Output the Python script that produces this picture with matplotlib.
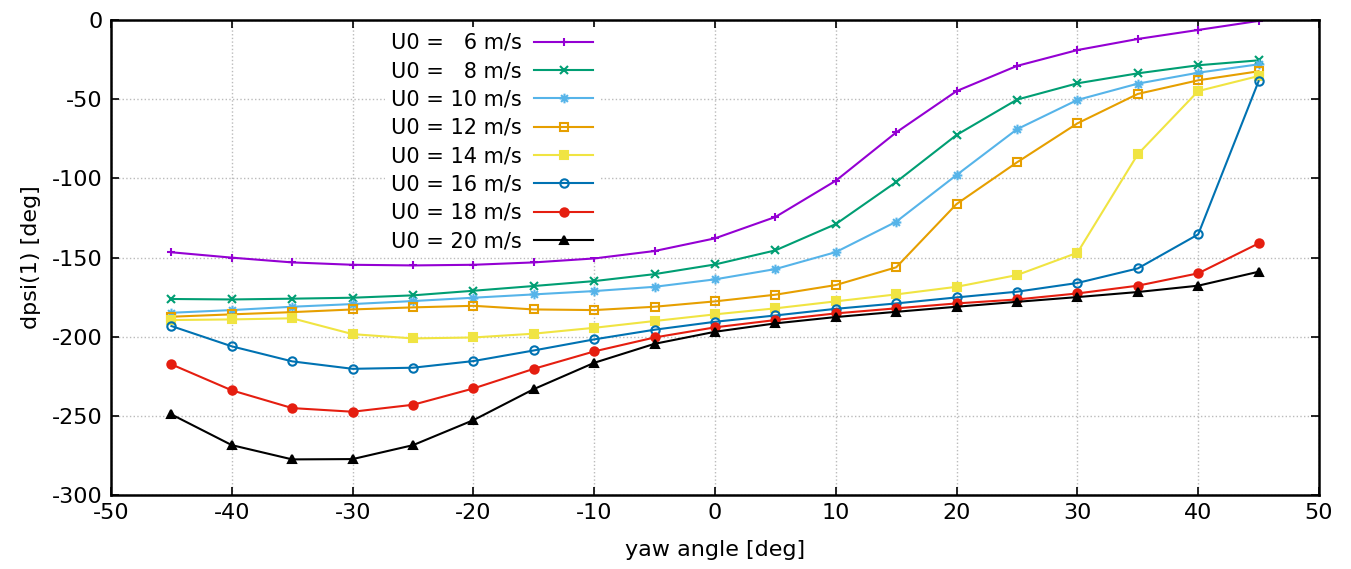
import numpy as np
import matplotlib
matplotlib.use('Agg')
import matplotlib.pyplot as plt
from matplotlib.path import Path

yaw = [-45, -40, -35, -30, -25, -20, -15, -10, -5, 0, 5, 10, 15, 20, 25, 30, 35, 40, 45]

speeds = [6, 8, 10, 12, 14, 16, 18, 20]

dpsi_6 = [-146.7, -150.1, -153.1, -154.6, -155.0, -154.6, -153.1, -150.6, -145.9, -137.9,
          -124.4, -101.5, -71.0, -44.9, -29.0, -19.0, -12.0, -6.3, -0.6]
dpsi_8 = [-176.2, -176.5, -176.0, -175.4, -173.9, -171.0, -168.0, -164.9, -160.5, -154.4,
          -145.5, -128.9, -102.3, -72.6, -50.3, -40.0, -33.7, -28.6, -25.5]
dpsi_10 = [-184.9, -183.2, -181.1, -179.4, -177.5, -175.4, -173.3, -171.2, -168.5, -163.8,
           -157.3, -146.6, -127.4, -97.9, -69.0, -50.5, -40.2, -33.3, -28.0]
dpsi_12 = [-187.4, -185.9, -184.5, -182.8, -181.5, -180.5, -182.8, -183.2, -181.1, -177.7,
           -173.5, -167.4, -156.2, -116.2, -89.9, -65.3, -46.7, -38.1, -32.4]
dpsi_14 = [-189.5, -189.1, -188.4, -198.4, -201.1, -200.5, -198.1, -194.4, -190.1, -185.9,
           -182.1, -177.7, -173.3, -168.5, -161.1, -147.0, -84.8, -44.9, -35.4]
dpsi_16 = [-193.3, -206.1, -215.6, -220.3, -219.6, -215.4, -208.7, -201.7, -195.6, -190.6,
           -186.6, -182.4, -179.0, -175.2, -171.6, -166.1, -156.9, -135.4, -38.7]
dpsi_18 = [-217.5, -233.9, -245.1, -247.4, -243.0, -232.7, -220.3, -209.3, -200.5, -194.1,
           -189.5, -185.3, -182.1, -179.0, -176.5, -172.7, -167.8, -160.0, -141.1]
dpsi_20 = [-249.1, -268.5, -277.5, -277.3, -268.5, -252.7, -233.1, -216.5, -204.5, -196.9,
           -191.6, -187.6, -184.3, -181.1, -178.0, -175.0, -171.8, -167.8, -159.0]

series = [dpsi_6, dpsi_8, dpsi_10, dpsi_12, dpsi_14, dpsi_16, dpsi_18, dpsi_20]

# gnuplot-like asterisk: a plus and a cross on top of each other
_d = 0.707
asterisk = Path([(-1, 0), (1, 0), (0, -1), (0, 1), (-_d, -_d), (_d, _d), (-_d, _d), (_d, -_d)],
                [Path.MOVETO, Path.LINETO] * 4)

colors = ['#9400d3', '#009e73', '#56b4e9', '#e69f00', '#f0e442', '#0072b2', '#e51e10', '#000000']
markers = ['+', 'x', asterisk, 's', 's', 'o', 'o', '^']
filled = [True, True, True, False, True, False, True, True]


def main():
    plt.rcParams['font.family'] = ['DejaVu Sans']
    plt.rcParams['axes.unicode_minus'] = False
    fig = plt.figure(figsize=(13.51, 5.69), dpi=100)
    ax = fig.add_axes([0.0822, 0.130, 0.8941, 0.8349])

    for v, y, c, m, f in zip(speeds, series, colors, markers, filled):
        label = 'U0 = %s m/s' % (('\u2007' + str(v)) if v < 10 else str(v))
        ax.plot(yaw, y, color=c, lw=1.5, marker=m, ms=7 if m is asterisk else 6, mew=1.5,
                mfc=c if f else 'none', mec=c, label=label)

    ax.set_xlim(-50, 50)
    ax.set_ylim(-300, 0)
    ax.set_xticks(np.arange(-50, 51, 10))
    ax.set_yticks(np.arange(-300, 1, 50))
    ax.tick_params(direction='in', top=True, right=True, length=6, width=1.2,
                   labelsize=16, pad=6)
    for s in ax.spines.values():
        s.set_linewidth(1.8)
    ax.grid(True, color='#bbbbbb', ls=':', lw=1.0)
    ax.set_xlabel('yaw angle [deg]', fontsize=16, labelpad=12)
    ax.set_ylabel('dpsi(1) [deg]', fontsize=16, labelpad=8)

    leg = ax.legend(loc='upper left', bbox_to_anchor=(0.218, 1.008), markerfirst=False,
                    fontsize=15, handlelength=2.8, handletextpad=0.6, labelspacing=0.4,
                    borderpad=0.3, frameon=True, fancybox=False, framealpha=1.0)
    leg.get_frame().set_edgecolor('none')

    fig.savefig('out.png', dpi=100)


if __name__ == '__main__':
    main()
